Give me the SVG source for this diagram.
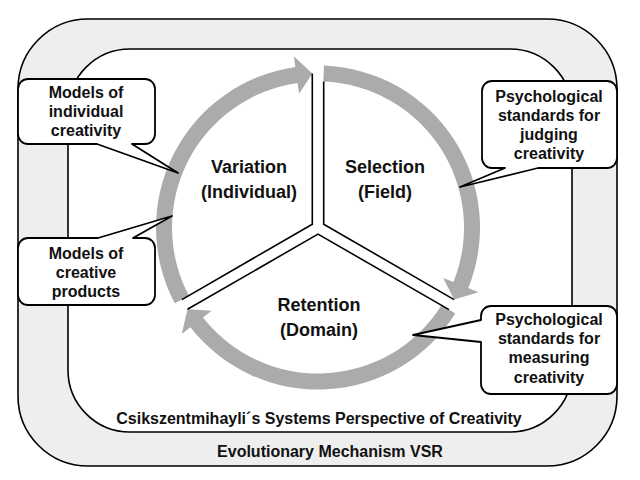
<svg xmlns="http://www.w3.org/2000/svg" width="640" height="480" viewBox="0 0 640 480">
<style>
text{font-family:"Liberation Sans",Arial,sans-serif;font-weight:bold;fill:#111;text-anchor:middle}
.t16{font-size:16px}
.t18{font-size:18px}
.frame{stroke:#000;stroke-width:1.6}
.ring{fill:#ababab;stroke:none}
.yl{fill:none;stroke:#000;stroke-width:1.6}
.bubble{fill:#fff;stroke:#000;stroke-width:1.8;stroke-linejoin:round}
</style>
<rect width="640" height="480" fill="#fff"/>
<g id="evolutionary-mechanism">
<rect class="frame" x="18" y="19" width="599" height="447" rx="70" fill="#eeeeee"/>
<text class="t16" x="330" y="457">Evolutionary Mechanism VSR</text>
</g>
<g id="systems-perspective">
<rect class="frame" x="68" y="49" width="504" height="383" rx="62" fill="#fff"/>
<text class="t16" x="319" y="424">Csikszentmihayli´s Systems Perspective of Creativity</text>
</g>
<g id="connectors">
<path class="ring" d="M174.82,303.30 A162,162 0 0 1 295.32,67.10 L293.78,56.21 L312.36,73.6 L299.1,93.84 L297.56,82.95 A146,146 0 0 0 188.97,295.81 Z"/>
<path class="ring" d="M323.94,65.61 A162,162 0 0 1 468.26,288.06 L478.46,292.17 L454.10,299.56 L443.21,277.96 L453.42,282.08 A146,146 0 0 0 323.35,81.60 Z"/>
<path class="ring" d="M455.24,313.59 A162,162 0 0 1 190.39,327.31 L181.72,334.08 L187.54,309.34 L211.66,310.67 L202.99,317.45 A146,146 0 0 0 441.69,305.08 Z"/>
<path class="yl" d="M312.3,73.6 V224.2 L181.9,299.6"/>
<path class="yl" d="M323.7,81.6 V224.2 L454.1,299.6"/>
<path class="yl" d="M187.5,309.3 L318,234.1 L449,309.6"/>
</g>
<g id="variation">
<text class="t18" x="249" y="173.3">Variation</text>
<text class="t18" x="249" y="197.7">(Individual)</text>
</g>
<g id="selection">
<text class="t18" x="385" y="173.3">Selection</text>
<text class="t18" x="385" y="197.7">(Field)</text>
</g>
<g id="retention">
<text class="t18" x="319" y="311">Retention</text>
<text class="t18" x="319" y="335.5">(Domain)</text>
</g>
<g id="callout-individual">
<path class="bubble" d="M28,79 H145 A10,10 0 0 1 155,89 V134 A10,10 0 0 1 145,144 H132 L178,173 L97,144 H28 A10,10 0 0 1 18,134 V89 A10,10 0 0 1 28,79 Z"/>
<text class="t16" x="86" y="98">Models of</text>
<text class="t16" x="86" y="117">individual</text>
<text class="t16" x="86" y="136">creativity</text>
</g>
<g id="callout-products">
<path class="bubble" d="M28,238 H98 L172,216 L133,238 H145 A10,10 0 0 1 155,248 V295 A10,10 0 0 1 145,305 H28 A10,10 0 0 1 18,295 V248 A10,10 0 0 1 28,238 Z"/>
<text class="t16" x="86" y="259">Models of</text>
<text class="t16" x="86" y="278">creative</text>
<text class="t16" x="86" y="297">products</text>
</g>
<g id="callout-judging">
<path class="bubble" d="M492,81 H607 A10,10 0 0 1 617,91 V158 A10,10 0 0 1 607,168 H538 L460,187 L505,168 H492 A10,10 0 0 1 482,158 V91 A10,10 0 0 1 492,81 Z"/>
<text class="t16" x="549" y="101.5">Psychological</text>
<text class="t16" x="549" y="120.5">standards for</text>
<text class="t16" x="549" y="139.5">judging</text>
<text class="t16" x="549" y="158.5">creativity</text>
</g>
<g id="callout-measuring">
<path class="bubble" d="M491,306 H607 A10,10 0 0 1 617,316 V384 A10,10 0 0 1 607,394 H491 A10,10 0 0 1 481,384 V342 L413,335 L481,320 V316 A10,10 0 0 1 491,306 Z"/>
<text class="t16" x="549" y="325">Psychological</text>
<text class="t16" x="549" y="344">standards for</text>
<text class="t16" x="549" y="363.3">measuring</text>
<text class="t16" x="549" y="382.7">creativity</text>
</g>
</svg>
